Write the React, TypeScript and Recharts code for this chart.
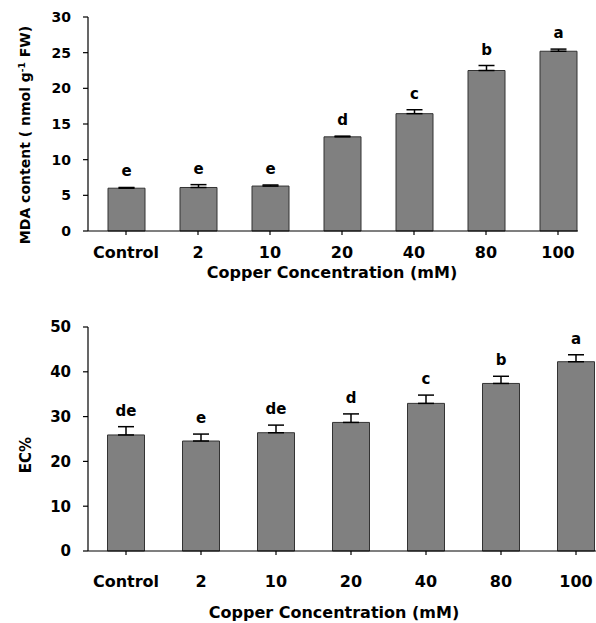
import { BarChart, Bar, XAxis, YAxis, ErrorBar, LabelList } from 'recharts';

const categories = ['Control', '2', '10', '20', '40', '80', '100'];

const mdaValues = [6.0, 6.1, 6.3, 13.2, 16.45, 22.5, 25.2];
const mdaErrors = [0.1, 0.4, 0.15, 0.1, 0.55, 0.7, 0.3];
const mdaLetters = ['e', 'e', 'e', 'd', 'c', 'b', 'a'];
const mdaTicks = [0, 5, 10, 15, 20, 25, 30];

const ecValues = [25.9, 24.55, 26.4, 28.7, 32.95, 37.4, 42.25];
const ecErrors = [1.85, 1.55, 1.7, 1.9, 1.85, 1.6, 1.55];
const ecLetters = ['de', 'e', 'de', 'd', 'c', 'b', 'a'];
const ecTicks = [0, 10, 20, 30, 40, 50];

const FONT = '"DejaVu Sans", Arial, sans-serif';

const build = (vals: number[], errs: number[], letters: string[]) =>
  categories.map((name, i) => ({ name, value: vals[i], err: [0, errs[i]], e: errs[i], letter: letters[i] }));

const mdaData = build(mdaValues, mdaErrors, mdaLetters);
const ecData = build(ecValues, ecErrors, ecLetters);

// letter above the error bar cap
const letterLabel = (data: any[]) => (props: any) => {
  const { x, y, width, height, index, value } = props;
  const row = data[index];
  const errPx = row.value ? (height * row.e) / row.value : 0;
  return (
    <text
      x={x + width / 2}
      y={y - errPx - 11}
      textAnchor="middle"
      fontFamily={FONT}
      fontWeight="bold"
      fontSize={15}
      fill="#000"
    >
      {value}
    </text>
  );
};

const titleStyle: React.CSSProperties = {
  position: 'absolute',
  fontFamily: FONT,
  fontWeight: 'bold',
  fontSize: 16,
  whiteSpace: 'nowrap',
  color: '#000',
  transform: 'translate(-50%, -50%)',
  lineHeight: 1,
};

export default function App() {
  return (
    <div style={{ position: 'absolute', left: 0, top: 0, width: 596, height: 623, overflow: 'hidden' }}>
      <div style={{ position: 'absolute', left: 8, top: 8, width: 570, height: 285, overflow: 'hidden' }}>
        <BarChart width={610} height={285} data={mdaData} margin={{ top: 9, right: 0, left: 0, bottom: 0 }}>
          <XAxis
            dataKey="name"
            height={62}
            padding={{ left: 2, right: 24 }}
            stroke="#000"
            strokeWidth={1.2}
            tickSize={4}
            tickMargin={12}
            tick={{ fill: '#000', fontFamily: FONT, fontWeight: 'bold', fontSize: 16 }}
            interval={0}
          />
          <YAxis
            width={80}
            domain={[0, 30]}
            ticks={mdaTicks}
            stroke="#000"
            strokeWidth={1.2}
            tickSize={5}
            tickMargin={12}
            tick={{ fill: '#000', fontFamily: FONT, fontWeight: 'bold', fontSize: 14 }}
            interval={0}
          />
          <Bar dataKey="value" fill="#808080" stroke="#333" strokeWidth={1} barSize={37} isAnimationActive={false}>
            <ErrorBar dataKey="err" width={8} stroke="#000" strokeWidth={1.5} direction="y" />
            <LabelList dataKey="letter" content={letterLabel(mdaData)} />
          </Bar>
        </BarChart>
        <div style={{ ...titleStyle, left: 17, top: 127, fontSize: 14, transform: 'translate(-50%, -50%) rotate(-90deg)' }}>
          MDA content ( nmol g<sup style={{ fontSize: 9 }}>-1</sup> FW)
        </div>
        <div style={{ ...titleStyle, left: 324, top: 265 }}>Copper Concentration (mM)</div>
      </div>
      <div style={{ position: 'absolute', left: 8, top: 293, width: 588, height: 330, overflow: 'hidden' }}>
        <BarChart width={606} height={330} data={ecData} margin={{ top: 34, right: 0, left: 0, bottom: 0 }}>
          <XAxis
            dataKey="name"
            height={72}
            padding={{ left: 0.5, right: 0.5 }}
            stroke="#000"
            strokeWidth={1.2}
            tickSize={4}
            tickMargin={21}
            tick={{ fill: '#000', fontFamily: FONT, fontWeight: 'bold', fontSize: 16 }}
            interval={0}
          />
          <YAxis
            width={80}
            domain={[0, 50]}
            ticks={ecTicks}
            stroke="#000"
            strokeWidth={1.2}
            tickSize={5}
            tickMargin={12}
            tick={{ fill: '#000', fontFamily: FONT, fontWeight: 'bold', fontSize: 15 }}
            interval={0}
          />
          <Bar dataKey="value" fill="#808080" stroke="#333" strokeWidth={1} barSize={37} isAnimationActive={false}>
            <ErrorBar dataKey="err" width={8} stroke="#000" strokeWidth={1.5} direction="y" />
            <LabelList dataKey="letter" content={letterLabel(ecData)} />
          </Bar>
        </BarChart>
        <div style={{ ...titleStyle, left: 18, top: 162, fontSize: 15, transform: 'translate(-50%, -50%) rotate(-90deg)' }}>
          EC%
        </div>
        <div style={{ ...titleStyle, left: 326, top: 320 }}>Copper Concentration (mM)</div>
      </div>
    </div>
  );
}
